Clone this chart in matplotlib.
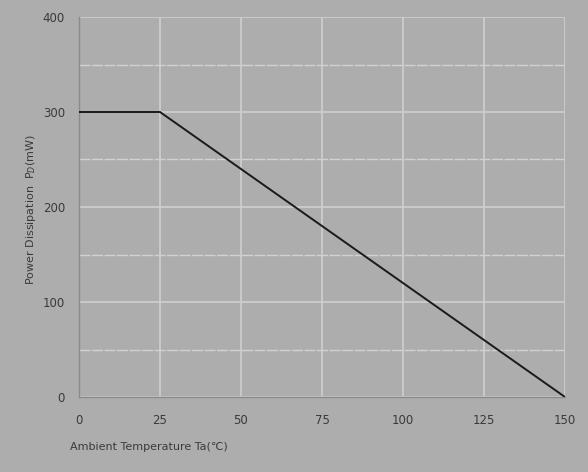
import matplotlib.pyplot as plt
import numpy as np

# derating curve: Ta (C) vs Pd (mW)
temp = [0, 25, 150]
power = [300, 300, 0]
xticks = [0, 25, 50, 75, 100, 125, 150]
yticks = [0, 100, 200, 300, 400]

bg = '#adadad'
fig = plt.figure(figsize=(5.88, 4.72), dpi=100, facecolor=bg)
ax = fig.add_axes([79/588, 1 - 397/472, (565 - 79)/588, (397 - 17)/472])
ax.set_facecolor(bg)

ax.plot(temp, power, color='#1a1a1a', lw=1.4, zorder=3)

ax.set_xlim(0, 150)
ax.set_ylim(0, 400)
ax.set_xticks(xticks)
ax.set_yticks(yticks)
ax.set_yticks(np.arange(50, 400, 100), minor=True)
ax.grid(which='major', color='#cfcfcf', lw=1.2)
ax.grid(which='minor', axis='y', color='#d2d2d2', lw=1.0, ls=(0, (8, 1)))
ax.tick_params(which='both', length=0, colors='#3a3a3a', labelsize=8.5)
ax.tick_params(axis='x', pad=12)
ax.tick_params(axis='y', pad=10)

for s in ['top', 'right']:
    ax.spines[s].set_visible(False)
for s in ['left', 'bottom']:
    ax.spines[s].set_color('#8a8a8a')
    ax.spines[s].set_linewidth(1.0)

fig.text(31/588, 1 - 210/472, 'Power Dissipation  P$_D$(mW)', rotation=90,
         ha='center', va='center', fontsize=8, color='#3a3a3a')
fig.text(70/588, 1 - 447/472, 'Ambient Temperature Ta(\u2103)',
         ha='left', va='center', fontsize=8, color='#3a3a3a')

fig.savefig('out.png', dpi=100, facecolor=bg)
